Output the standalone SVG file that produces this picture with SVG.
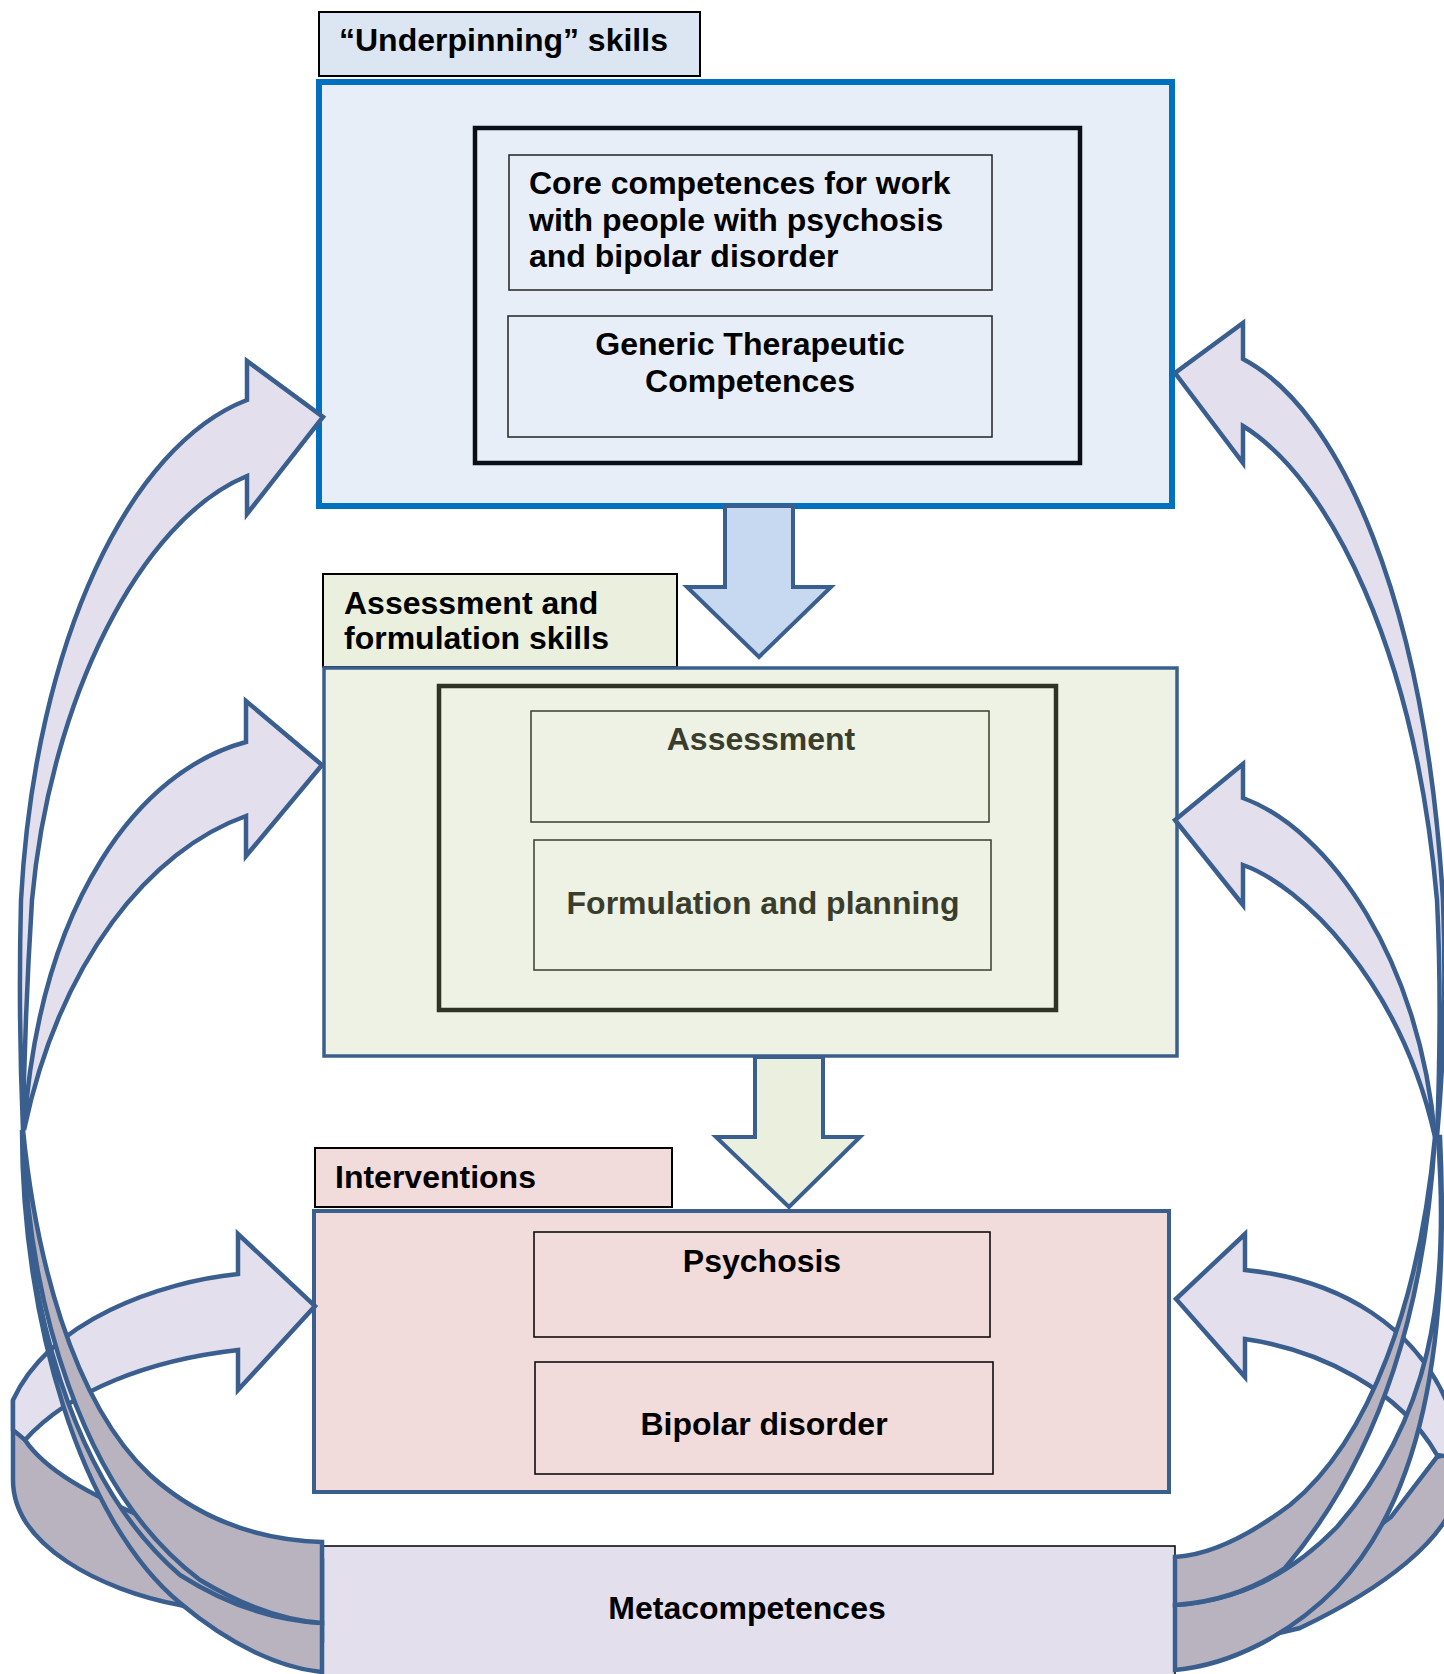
<svg xmlns="http://www.w3.org/2000/svg" width="1444" height="1674" viewBox="0 0 1444 1674">
<style>
.t{font-family:"Liberation Sans",Arial,sans-serif;font-weight:bold;font-size:32px;fill:#000}
.tg{fill:#3A3D2B}
.lav{fill:#E4DFEC;stroke:#3A5F8F;stroke-width:4.5}
.gray{fill:#B8B3BF;stroke:#3A5F8F;stroke-width:4.5}
</style>
<rect width="1444" height="1674" fill="#fff"/>

<g id="underpinning-label">
<rect x="319" y="12" width="381" height="64" fill="#DCE6F2" stroke="#000" stroke-width="2"/>
<text class="t" x="339" y="51">“Underpinning” skills</text>
</g>
<g id="underpinning">
<rect x="319" y="82" width="853" height="424" fill="#E8EEF7" stroke="#0070C0" stroke-width="6"/>
<rect x="475" y="128" width="605" height="335" fill="none" stroke="#0A0F17" stroke-width="4.5"/>
</g>
<g id="core">
<rect x="509" y="155" width="483" height="135" fill="none" stroke="#222" stroke-width="1.5"/>
<text class="t" x="529" y="194">Core competences for work</text>
<text class="t" x="529" y="230.5">with people with psychosis</text>
<text class="t" x="529" y="267">and bipolar disorder</text>
</g>
<g id="generic">
<rect x="508" y="316" width="484" height="121" fill="none" stroke="#222" stroke-width="1.5"/>
<text class="t" x="750" y="355" text-anchor="middle">Generic Therapeutic</text>
<text class="t" x="750" y="392" text-anchor="middle">Competences</text>
</g>

<g id="assessment-label">
<rect x="323" y="574" width="354" height="93" fill="#EBF0DE" stroke="#000" stroke-width="2"/>
<text class="t" x="344" y="614">Assessment and</text>
<text class="t" x="344" y="649">formulation skills</text>
</g>
<g id="assessment-skills">
<rect x="324" y="668" width="853" height="388" fill="#EEF2E4" stroke="#3A5F8F" stroke-width="3.5"/>
<rect x="439" y="686" width="617" height="324" fill="none" stroke="#2E3324" stroke-width="4.5"/>
</g>
<g id="assessment">
<rect x="531" y="711" width="458" height="111" fill="none" stroke="#3A3D2B" stroke-width="1.5"/>
<text class="t tg" x="761" y="750" text-anchor="middle">Assessment</text>
</g>
<g id="formulation">
<rect x="534" y="840" width="457" height="130" fill="none" stroke="#3A3D2B" stroke-width="1.5"/>
<text class="t tg" x="763" y="914" text-anchor="middle">Formulation and planning</text>
</g>

<g id="interventions-label">
<rect x="315" y="1148" width="357" height="59" fill="#F2DCDB" stroke="#000" stroke-width="2"/>
<text class="t" x="335" y="1188">Interventions</text>
</g>
<g id="interventions">
<rect x="314" y="1211" width="855" height="281" fill="#F2DCDB" stroke="#3A5F8F" stroke-width="4"/>
</g>
<g id="psychosis">
<rect x="534" y="1232" width="456" height="105" fill="none" stroke="#000" stroke-width="1.5"/>
<text class="t" x="762" y="1272" text-anchor="middle">Psychosis</text>
</g>
<g id="bipolar">
<rect x="535" y="1362" width="458" height="112" fill="none" stroke="#000" stroke-width="1.5"/>
<text class="t" x="764" y="1435" text-anchor="middle">Bipolar disorder</text>
</g>

<g id="metacompetences">
<rect x="322" y="1546" width="853" height="140" fill="#E4DFEC" stroke="#000" stroke-width="1.5"/>
<text class="t" x="747" y="1619" text-anchor="middle">Metacompetences</text>
</g>

<g id="connectors">
<polygon points="725,506 793,506 793,587 831,587 759,657 687,587 725,587" fill="#C6D9F0" stroke="#3A5F8F" stroke-width="4"/>
<polygon points="755,1057 823,1057 823,1137 860,1137 789,1207 716,1137 755,1137" fill="#EBF0DE" stroke="#3A5F8F" stroke-width="4"/>

<!-- left ring -->
<path class="gray" d="M13,1400 L13,1480 C13,1545 100,1590 180,1605 L322,1640 L322,1560 L150,1520 C90,1495 45,1470 25,1440 Z"/>
<path class="lav" d="M238,1274 L238,1234 L315,1306 L238,1390 L238,1350 C150,1360 70,1390 25,1440 L13,1430 L13,1400 C50,1320 160,1282 238,1274 Z"/>
<!-- left bands -->
<path class="gray" d="M22,1130 C24,1300 70,1480 180,1575 C235,1610 285,1621 322,1623 L322,1672 C280,1668 230,1645 180,1603 C80,1520 22,1320 22,1130 Z"/>
<path class="gray" d="M23,1130 C35,1250 70,1400 150,1475 C200,1520 260,1540 322,1542 L322,1623 C290,1621 250,1610 200,1580 C80,1490 28,1300 23,1130 Z"/>
<!-- left arrows -->
<path class="lav" d="M247,400 L247,361 L323,417 L247,514 L247,476 C140,520 50,700 32,900 C27,980 24,1060 23,1130 C20,1060 19,980 21,900 C35,640 130,445 247,400 Z"/>
<path class="lav" d="M246,742 L246,701 L322,765 L246,856 L246,816 C150,850 60,960 24,1130 C40,900 140,770 246,742 Z"/>

<!-- right ring -->
<path class="gray" d="M1437,1457 L1460,1450 L1460,1485 C1450,1540 1380,1590 1300,1628 L1250,1640 L1250,1625 L1340,1555 L1391,1517 Z"/>
<path class="lav" d="M1245,1270 L1245,1234 L1176,1299 L1245,1377 L1245,1339 C1320,1350 1400,1390 1437,1455 L1460,1458 L1460,1430 L1446,1400 C1415,1330 1345,1280 1245,1270 Z"/>
<!-- right bands -->
<path class="gray" d="M1438,1137 C1450,1300 1430,1420 1337,1527 C1290,1575 1240,1600 1175,1605 L1175,1670 C1230,1665 1290,1635 1337,1587 C1420,1500 1450,1350 1440,1137 Z"/>
<path class="gray" d="M1435,1137 C1420,1300 1370,1440 1290,1505 C1250,1535 1210,1555 1175,1557 L1175,1605 C1210,1603 1250,1592 1285,1568 C1385,1450 1425,1300 1435,1137 Z"/>
<!-- right arrows -->
<path class="lav" d="M1243,359 L1243,323 L1175,373 L1243,463 L1243,426 C1330,480 1415,650 1437,900 C1441,980 1440,1060 1437,1137 C1444,1060 1446,980 1443,900 C1425,600 1340,410 1243,359 Z"/>
<path class="lav" d="M1243,798 L1243,764 L1175,820 L1243,905 L1243,865 C1300,885 1400,980 1435,1137 C1420,960 1330,830 1243,798 Z"/>
</g>
</svg>
